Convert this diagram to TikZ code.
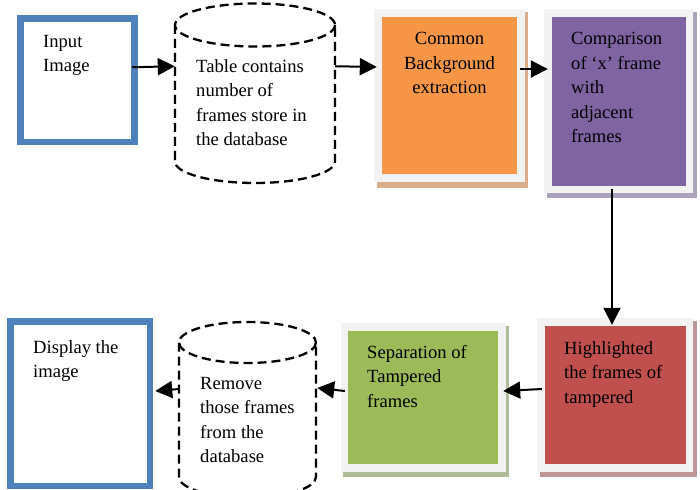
\documentclass[tikz,border=0pt]{standalone}
\usepackage{fontspec}
\setmainfont{Liberation Serif}
\usetikzlibrary{arrows.meta,calc}
\definecolor{myblue}{HTML}{4F81BD}
\definecolor{myorange}{HTML}{F79646}
\definecolor{mypurple}{HTML}{8064A2}
\definecolor{myred}{HTML}{C0504D}
\definecolor{mygreen}{HTML}{9BBB59}
\definecolor{panelgray}{HTML}{F2F2F2}
\definecolor{shor}{HTML}{D9AD8A}
\definecolor{shpu}{HTML}{ABA2BD}
\definecolor{shre}{HTML}{BE9696}
\definecolor{shgr}{HTML}{AEBD98}
\begin{document}
\begin{tikzpicture}[x=1pt,y=-1pt,
  txt/.style={inner sep=0pt,font=\fontsize{18.6}{24.5}\selectfont,align=left,anchor=north west},
  bluebox/.style={draw=myblue,line width=6.5pt,rectangle,inner sep=0pt},
  colbox/.style={rectangle,inner sep=0pt,draw=none},
  ghost/.style={rectangle,inner sep=0pt,draw=none},
  dashcyl/.style={draw=black,line width=2.3pt,dash pattern=on 9pt off 5pt},
  arr/.style={draw=black,line width=2pt,-{Triangle[length=17pt,width=17pt]}}]
\useasboundingbox (0,0) rectangle (700,489);
\clip (0,0) rectangle (700,489);
\fill[white] (0,0) rectangle (700,489);

% Input image
\node[bluebox,minimum width=114pt,minimum height=123.5pt] (inp) at (77.5,80.25) {};
\node[txt] (inpt) at (43,35) {Input\\Image};

% Cylinder 1
\node[ghost,minimum width=160pt,minimum height=179.5pt] (cyl1) at (255,93.25) {};
\draw[dashcyl] (255,25) ellipse [x radius=80, y radius=21.5];
\draw[dashcyl] (175,25) -- (175,161.5) arc[start angle=180,end angle=0,x radius=80,y radius=21.5] -- (335,25);
\node[txt] (cyl1t) at (196,59) {Table contains\\number of\\frames store in\\the database};

% Orange box
\fill[shor] (377,12) rectangle (528,188);
\fill[panelgray] (374,9) rectangle (525,182);
\node[colbox,fill=myorange,minimum width=135pt,minimum height=157pt] (cbe) at (449.5,95.5) {};
\node[txt,align=center,anchor=north] (cbet) at (449.5,32) {Common\\Background\\extraction};

% Purple box
\fill[shpu] (547,12) rectangle (697,198);
\fill[panelgray] (544,9) rectangle (693,193);
\node[colbox,fill=mypurple,minimum width=134pt,minimum height=169pt] (cmp) at (619,101.5) {};
\node[txt] (cmpt) at (571,32) {Comparison\\of ‘x’ frame\\with\\adjacent\\frames};

% Red box
\fill[shre] (540,321) rectangle (697,477);
\fill[panelgray] (537,318) rectangle (693,472);
\node[colbox,fill=myred,minimum width=141pt,minimum height=138pt] (hl) at (615.5,395) {};
\node[txt] (hlt) at (564,341) {Highlighted\\the frames of\\tampered};

% Green box
\fill[shgr] (343,326) rectangle (509,477);
\fill[panelgray] (341,323) rectangle (506,472);
\node[colbox,fill=mygreen,minimum width=150pt,minimum height=133pt] (sep) at (423,397.5) {};
\node[txt] (sept) at (367,345) {Separation of\\Tampered\\frames};

% Cylinder 2
\node[ghost,minimum width=137pt,minimum height=175pt] (cyl2) at (247.5,409.5) {};
\draw[dashcyl] (247.5,342.5) ellipse [x radius=68.5, y radius=20.5];
\draw[dashcyl] (179,342.5) -- (179,477) arc[start angle=180,end angle=0,x radius=68.5,y radius=20.5] -- (316,342.5);
\node[txt] (cyl2t) at (200,377) {Remove\\those frames\\from the\\database};

% Display box
\node[bluebox,minimum width=139.5pt,minimum height=164.5pt] (disp) at (80.25,403.75) {};
\node[txt] (dispt) at (33,340) {Display the\\image};

% Connectors
\draw[arr] ($(inp.east)+(-5.5,-13)$) -- ($(cyl1.west)+(0,-27)$);
\draw[arr] ($(cyl1.east)+(0,-27)$) -- ($(cbe.west)+(-5,-28.5)$);
\draw[arr] ($(cbe.east)+(3,-26.5)$) -- ($(cmp.west)+(-4,-32.5)$);
\draw[arr] ($(cmp.south)+(-7,3)$) -- ($(hl.north)+(-3.5,-1)$);
\draw[arr] ($(hl.west)+(-3,-6)$) -- ($(sep.east)+(5,-6.5)$);
\draw[arr] ($(sep.west)+(-3,-6.5)$) -- ($(cyl2.east)+(1,-21.5)$);
\draw[arr] ($(cyl2.west)+(0,-20.5)$) -- ($(disp.east)+(2,-12.75)$);
\end{tikzpicture}
\end{document}
